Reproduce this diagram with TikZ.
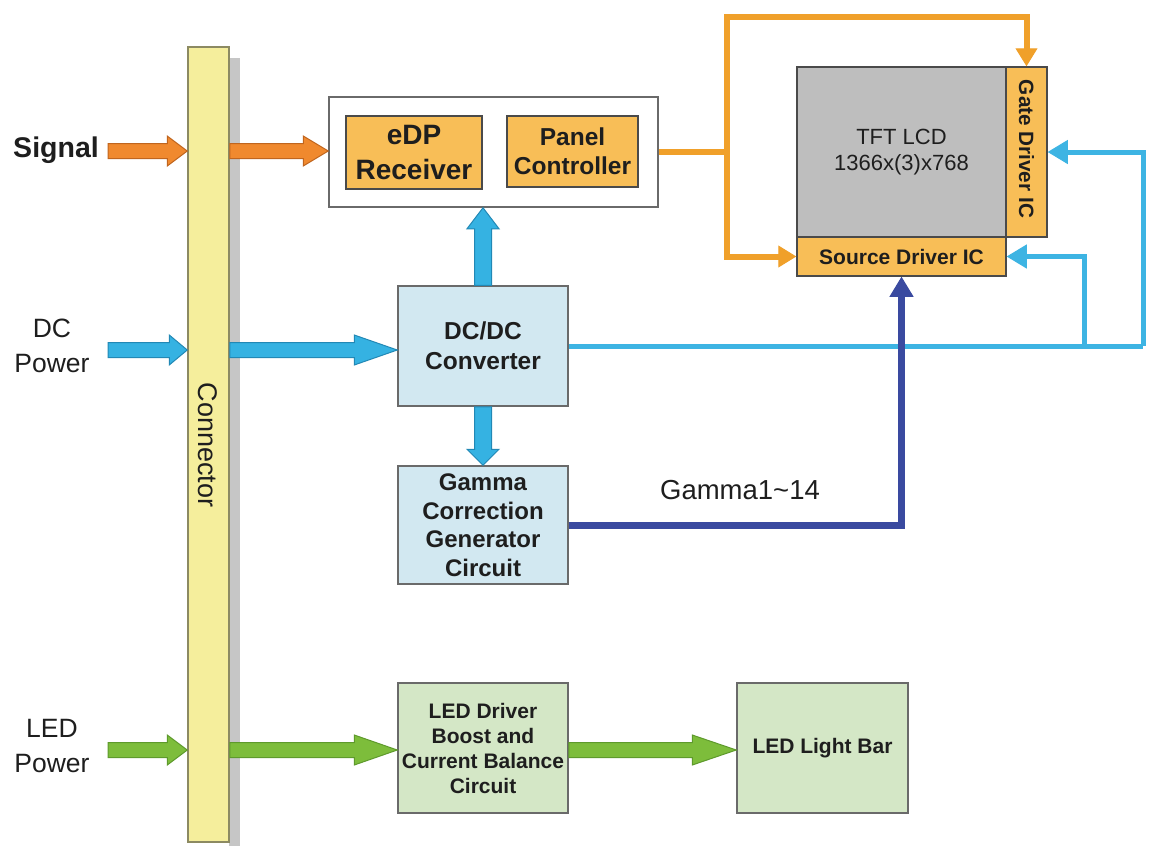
\documentclass[tikz,border=0pt]{standalone}
\usepackage{fontspec}
\setmainfont{Liberation Sans}
\usetikzlibrary{arrows.meta,calc}
\definecolor{txt}{HTML}{1E1E1E}
\definecolor{boxor}{HTML}{F8BE57}
\definecolor{bordark}{HTML}{4A4A4A}
\definecolor{bordgray}{HTML}{6A6A6A}
\definecolor{boxblue}{HTML}{D2E8F1}
\definecolor{boxgreen}{HTML}{D4E7C6}
\definecolor{tftgray}{HTML}{BEBEBE}
\definecolor{connyel}{HTML}{F5EE9C}
\definecolor{connbord}{HTML}{8C8A62}
\definecolor{shadowgray}{HTML}{C6C6C6}
\definecolor{arrowor}{HTML}{F0892E}
\definecolor{arrowordk}{HTML}{C0651E}
\definecolor{arrowbl}{HTML}{35B2E2}
\definecolor{arrowbldk}{HTML}{2288B5}
\definecolor{arrowgr}{HTML}{7DBD3B}
\definecolor{arrowgrdk}{HTML}{5E9A2C}
\definecolor{lineor}{HTML}{F0A02A}
\definecolor{lineblue}{HTML}{3DB4E3}
\definecolor{navyline}{HTML}{3A4AA0}
\newcommand\hblk[4]{\path[#1] let \p1=#2, \p2=#3 in
  (\x1,\y2+7.5pt) -- (\x2-#4,\y2+7.5pt) -- (\x2-#4,\y2+15pt) -- (\x2,\y2)
  -- (\x2-#4,\y2-15pt) -- (\x2-#4,\y2-7.5pt) -- (\x1,\y2-7.5pt) -- cycle;}
\newcommand\vblk[4]{\path[#1] let \p1=#2, \p2=#3 in
  (\x1-8.5pt,\y1) -- (\x1-8.5pt,\y2#4) -- (\x1-16pt,\y2#4) -- (\x1,\y2)
  -- (\x1+16pt,\y2#4) -- (\x1+8.5pt,\y2#4) -- (\x1+8.5pt,\y1) -- cycle;}
\begin{document}
\begin{tikzpicture}[x=1pt,y=-1pt,
  every node/.style={text=txt},
  obox/.style={draw=bordark, line width=1.5pt, fill=boxor, inner sep=0pt, align=center},
  bbox/.style={draw=bordgray, line width=1.5pt, fill=boxblue, inner sep=0pt, align=center},
  gbox/.style={draw=bordgray, line width=1.5pt, fill=boxgreen, inner sep=0pt, align=center},
  lbl/.style={inner sep=0pt, align=center},
  oarrow/.style={fill=arrowor, draw=arrowordk, line width=1pt},
  barrow/.style={fill=arrowbl, draw=arrowbldk, line width=1pt},
  garrow/.style={fill=arrowgr, draw=arrowgrdk, line width=1pt},
  oline/.style={draw=lineor, line width=6pt},
  bline/.style={draw=lineblue, line width=5pt},
  dline/.style={draw=navyline, line width=7pt},
  otip/.style={-{Triangle[length=18pt,width=22pt,line width=1pt]}},
  btip/.style={-{Triangle[length=20pt,width=24pt,line width=1pt]}},
  dtip/.style={-{Triangle[length=20pt,width=24pt,line width=1pt]}}
]
\useasboundingbox (0,0) rectangle (1154,847);
\fill[white] (0,0) rectangle (1154,847);

% connector
\fill[shadowgray] (229,58) rectangle (240,846);
\node[draw=connbord, line width=1.5pt, fill=connyel, minimum width=41pt, minimum height=795pt, inner sep=0pt] (conn) at (208.5,444.5) {};
\node[lbl, rotate=-90, font=\fontsize{27}{32}\selectfont] (connlbl) at (208,445) {Connector};

% left labels
\node[lbl, font=\bfseries\fontsize{28.5}{34}\selectfont] (sig) at (56,150) {Signal};
\node[lbl, font=\fontsize{26.5}{35}\selectfont] (dcp) at (52,346) {DC\\Power};
\node[lbl, font=\fontsize{26.5}{35}\selectfont] (ledp) at (52,746) {LED\\Power};
\coordinate (sigin) at (108,151);
\coordinate (dcin) at (108,350);
\coordinate (ledin) at (108,750);

% top block
\node[draw=bordgray, line width=1.5pt, fill=white, minimum width=329pt, minimum height=110pt, inner sep=0pt] (outer) at (493.5,152) {};
\node[obox, minimum width=136pt, minimum height=73pt, font=\bfseries\fontsize{28}{35}\selectfont] (edp) at (414,152.5) {eDP\\Receiver};
\node[obox, minimum width=131pt, minimum height=71pt, font=\bfseries\fontsize{24.5}{29}\selectfont] (pc) at (572.5,151.5) {Panel\\Controller};

% blue boxes
\node[bbox, minimum width=170pt, minimum height=120pt, font=\bfseries\fontsize{24.5}{30}\selectfont] (dcdc) at (483,346) {DC/DC\\Converter};
\node[bbox, minimum width=170pt, minimum height=118pt, font=\bfseries\fontsize{24}{28.5}\selectfont] (gam) at (483,525) {Gamma\\Correction\\Generator\\Circuit};

% green boxes
\node[gbox, minimum width=170pt, minimum height=130pt, font=\bfseries\fontsize{21}{25}\selectfont] (led) at (483,748) {LED Driver\\Boost and\\Current Balance\\Circuit};
\node[gbox, minimum width=171pt, minimum height=130pt, font=\bfseries\fontsize{21}{25}\selectfont] (bar) at (822.5,748) {LED Light Bar};

% TFT panel
\node[draw=bordark, line width=1.5pt, fill=tftgray, minimum width=209pt, minimum height=170pt, inner sep=0pt, align=center, font=\fontsize{22}{26}\selectfont] (tft) at (901.5,152) {TFT LCD\\1366x(3)x768};
\node[obox, minimum width=209pt, minimum height=39pt, font=\bfseries\fontsize{21}{25}\selectfont] (src) at (901.5,256.5) {Source Driver IC};
\node[obox, minimum width=41pt, minimum height=170pt] (gate) at (1026.5,152) {};
\node[lbl, rotate=-90, font=\bfseries\fontsize{20.7}{25}\selectfont] (gatelbl) at (1026.5,149) {Gate Driver IC};

% block arrows
\hblk{oarrow}{(sigin)}{(conn.west |- sigin)}{20pt}
\hblk{oarrow}{(conn.east |- sigin)}{(outer.west |- sigin)}{25pt}
\hblk{barrow}{(dcin)}{(conn.west |- dcin)}{18pt}
\hblk{barrow}{(conn.east |- dcin)}{(dcdc.west |- dcin)}{43pt}
\hblk{garrow}{(ledin)}{(conn.west |- ledin)}{20pt}
\hblk{garrow}{(conn.east |- ledin)}{(led.west |- ledin)}{43pt}
\hblk{garrow}{(led.east |- ledin)}{(bar.west |- ledin)}{44pt}
\vblk{barrow}{(dcdc.north)}{(dcdc.north |- outer.south)}{-21pt}
\vblk{barrow}{(dcdc.south)}{(gam.north)}{+16pt}

% orange signal lines
\coordinate (oj) at (727,152);
\coordinate (otop) at (727,17);
\draw[oline] (outer.east) -- (oj);
\draw[oline, otip] (oj) -- (otop) -| (gate.north);
\draw[oline, otip] (oj) |- (src.west);

% blue power lines
\coordinate (bj) at (1084,346);
\coordinate (br) at (1143,346);
\draw[bline] (dcdc.east) -- (br);
\draw[bline, btip] (br) |- (gate.east);
\draw[bline, btip] (bj) |- (src.east);

% gamma line
\draw[dline, dtip] (gam.east) -| (src.south);
\node[lbl, font=\fontsize{27.5}{32}\selectfont] (gl) at (740,490) {Gamma1\textasciitilde14};
\end{tikzpicture}
\end{document}
